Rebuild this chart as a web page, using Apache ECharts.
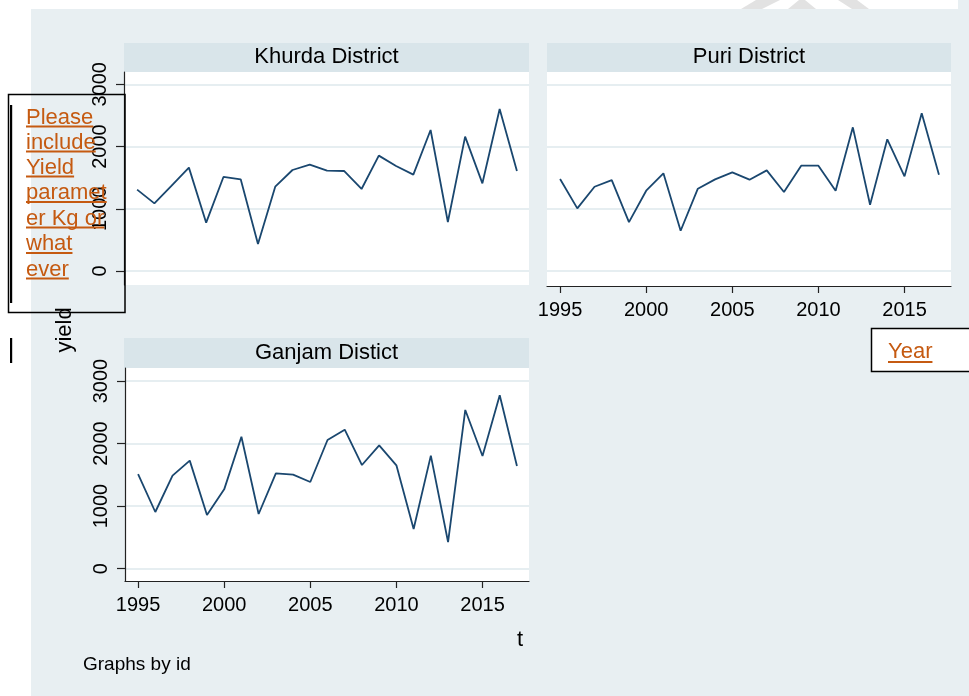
<!DOCTYPE html>
<html>
<head>
<meta charset="utf-8">
<script src="https://cdn.jsdelivr.net/npm/echarts@6/dist/echarts.min.js"></script>
<style>
  html, body { margin: 0; padding: 0; background: #ffffff; }
  #wrap { position: relative; width: 969px; height: 696px; overflow: hidden; }
  .bg { position: absolute; background: #e8eff2; }
  #chart { position: absolute; left: 0; top: 0; width: 969px; height: 696px; }
</style>
</head>
<body>
<div id="wrap">
  <div class="bg" style="left:31px;top:9px;width:938px;height:687px;"></div>
  <div class="bg" style="left:958px;top:0px;width:11px;height:9px;"></div>
  <div id="chart"></div>
</div>
<script>
// ---- data ----
const years = [1995,1996,1997,1998,1999,2000,2001,2002,2003,2004,2005,2006,2007,2008,2009,2010,2011,2012,2013,2014,2015,2016,2017];
const khurda = [1307,1087,1371,1661,777,1511,1473,434,1355,1623,1709,1612,1607,1318,1854,1687,1548,2266,787,2159,1409,2604,1607];
const puri   = [1479,1007,1355,1462,787,1291,1570,648,1323,1473,1586,1468,1618,1270,1693,1693,1291,2309,1066,2116,1521,2534,1548];
const ganjam = [1513,906,1487,1727,858,1268,2110,874,1524,1503,1386,2057,2222,1657,1972,1652,634,1807,426,2537,1801,2771,1641];
const panelTitles = ['Khurda District', 'Puri District', 'Ganjam Distict'];
const xTicks = [1995, 2000, 2005, 2010, 2015];
const yTicks = [0, 1000, 2000, 3000];
const noteLines = ['Please', 'include', 'Yield', 'paramet', 'er Kg or', 'what', 'ever'];

const FONT = '"Liberation Sans", Arial, sans-serif';
const LINE = '#1a476f';
const GRIDC = '#e6eef1';
const HEAD = '#d9e5ea';
const ORANGE = '#c55a11';

const chart = echarts.init(document.getElementById('chart'), null, {renderer: 'canvas'});

function pair(vals) { return years.map((y, i) => [y, vals[i]]); }
const plain = v => String(v);

function xAxis(idx, show) {
  return {
    type: 'value', gridIndex: idx, min: 1994.24, max: 2017.7,
    axisLine: {show: show, onZero: false, lineStyle: {color: '#222', width: 1.2}},
    axisTick: {show: show, length: 7, customValues: xTicks, lineStyle: {color: '#222', width: 1.2}},
    axisLabel: {show: show, customValues: xTicks, formatter: plain, margin: 14, color: '#000', fontSize: 20, fontFamily: FONT},
    splitLine: {show: false}
  };
}
function yAxis(idx, show, min, max) {
  return {
    type: 'value', gridIndex: idx, min: min, max: max,
    axisLine: {show: show, onZero: false, lineStyle: {color: '#222', width: 1.2}},
    axisTick: {show: show, length: 8, customValues: yTicks, lineStyle: {color: '#222', width: 1.2}},
    axisLabel: {show: show, customValues: yTicks, formatter: plain, rotate: 90, margin: 14, color: '#000', fontSize: 20, fontFamily: FONT},
    splitLine: {show: true, lineStyle: {color: GRIDC, width: 2}}
  };
}

// measure text widths for underlines
const mctx = document.createElement('canvas').getContext('2d');
mctx.font = '22px ' + FONT;

const graphics = [];
// headers
const heads = [
  {x: 124, y: 43, w: 405, h: 29},
  {x: 547, y: 43, w: 404, h: 29},
  {x: 124, y: 338, w: 405, h: 30}
];
heads.forEach((h, i) => {
  graphics.push({type: 'rect', shape: {x: h.x, y: h.y, width: h.w, height: h.h}, style: {fill: HEAD}, silent: true});
  graphics.push({type: 'text', x: h.x + h.w / 2, y: h.y + h.h / 2 - 0.5,
    style: {text: panelTitles[i], font: '22px ' + FONT, fill: '#000', textAlign: 'center', textVerticalAlign: 'middle'}});
});
// axis titles and note
graphics.push({type: 'text', x: 65, y: 330, rotation: Math.PI / 2,
  style: {text: 'yield', font: '22px ' + FONT, fill: '#000', textAlign: 'center', textVerticalAlign: 'middle'}});
graphics.push({type: 'text', x: 520, y: 640,
  style: {text: 't', font: '22px ' + FONT, fill: '#000', textAlign: 'center', textVerticalAlign: 'middle'}});
graphics.push({type: 'text', x: 83, y: 665,
  style: {text: 'Graphs by id', font: '19px ' + FONT, fill: '#000', textAlign: 'left', textVerticalAlign: 'middle'}});

// faint watermark fragments at top
const WM = '#e2e2e2';
graphics.push({type: 'polygon', shape: {points: [[756,0],[780,0],[762,9],[741,9]]}, style: {fill: WM}, silent: true});
graphics.push({type: 'polygon', shape: {points: [[799,0],[805,0],[816,9],[788,9]]}, style: {fill: WM}, silent: true});
graphics.push({type: 'polygon', shape: {points: [[838,0],[857,0],[869,9],[852,9]]}, style: {fill: WM}, silent: true});

// comment box
graphics.push({type: 'rect', z: 100, shape: {x: 8.5, y: 94.5, width: 116.5, height: 218}, style: {fill: 'none', stroke: '#000', lineWidth: 1.5}});
graphics.push({type: 'rect', z: 100, shape: {x: 10, y: 105, width: 2.2, height: 198}, style: {fill: '#000'}});
graphics.push({type: 'rect', z: 100, shape: {x: 10, y: 338, width: 2.2, height: 25}, style: {fill: '#000'}});
const baseUl = [126.5, 151.5, 176.5, 202, 227.5, 253, 278.5];
noteLines.forEach((t, i) => {
  const w = mctx.measureText(t).width;
  graphics.push({type: 'text', z: 101, x: 26, y: baseUl[i] - 9,
    style: {text: t, font: '22px ' + FONT, fill: ORANGE, textAlign: 'left', textVerticalAlign: 'middle'}});
  graphics.push({type: 'rect', z: 101, shape: {x: 26, y: baseUl[i] - 1, width: w, height: 2}, style: {fill: ORANGE}});
});
// Year box
graphics.push({type: 'rect', z: 100, shape: {x: 871.5, y: 328.5, width: 110, height: 43}, style: {fill: '#fff', stroke: '#000', lineWidth: 1.5}});
const yw = mctx.measureText('Year').width;
graphics.push({type: 'text', z: 101, x: 888, y: 352,
  style: {text: 'Year', font: '22px ' + FONT, fill: ORANGE, textAlign: 'left', textVerticalAlign: 'middle'}});
graphics.push({type: 'rect', z: 101, shape: {x: 888, y: 361, width: yw, height: 2}, style: {fill: ORANGE}});

const option = {
  animation: false,
  backgroundColor: 'transparent',
  grid: [
    {left: 124, top: 72, width: 405, height: 213, show: true, backgroundColor: '#fff', borderWidth: 0},
    {left: 547, top: 72, width: 404, height: 214, show: true, backgroundColor: '#fff', borderWidth: 0},
    {left: 125, top: 368, width: 404, height: 213, show: true, backgroundColor: '#fff', borderWidth: 0}
  ],
  xAxis: [xAxis(0, false), xAxis(1, true), xAxis(2, true)],
  yAxis: [yAxis(0, true, -225, 3198), yAxis(1, false, -240, 3198), yAxis(2, true, -197, 3208)],
  series: [
    {type: 'line', xAxisIndex: 0, yAxisIndex: 0, data: pair(khurda), symbol: 'none', lineStyle: {color: LINE, width: 1.8}},
    {type: 'line', xAxisIndex: 1, yAxisIndex: 1, data: pair(puri), symbol: 'none', lineStyle: {color: LINE, width: 1.8}},
    {type: 'line', xAxisIndex: 2, yAxisIndex: 2, data: pair(ganjam), symbol: 'none', lineStyle: {color: LINE, width: 1.8}}
  ],
  graphic: graphics
};
chart.setOption(option);
</script>
</body>
</html>
